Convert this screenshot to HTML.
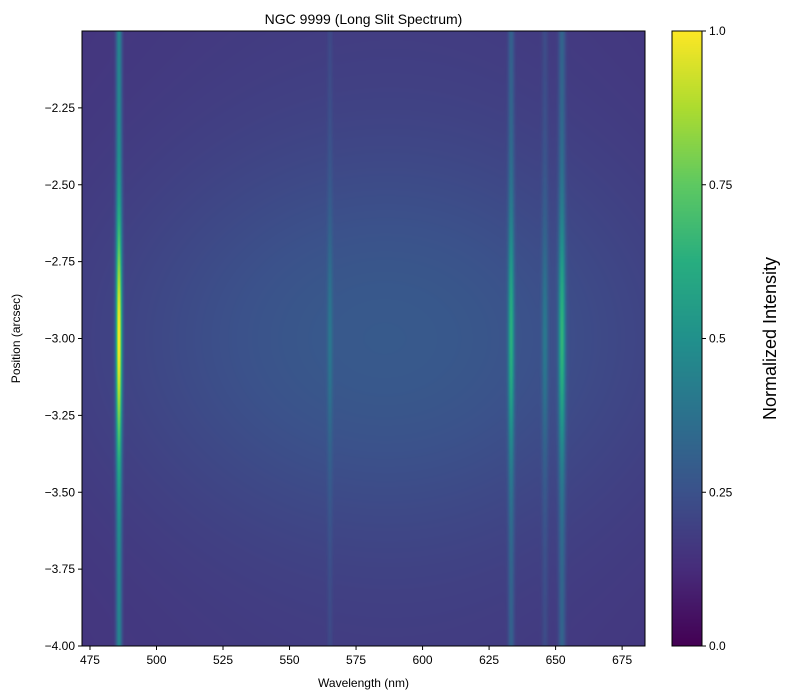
<!DOCTYPE html>
<html><head><meta charset="utf-8"><style>
body{margin:0;background:#fff;width:792px;height:699px;overflow:hidden;position:relative;font-family:"Liberation Sans","DejaVu Sans",sans-serif}
svg{position:absolute;left:0;top:0}
</style></head><body>
<canvas id="hm" width="563" height="615" style="position:absolute;left:82px;top:31px"></canvas>
<canvas id="cb" width="30" height="615" style="position:absolute;left:672px;top:31px"></canvas>
<svg id="ov" width="792" height="699"></svg>
<script>
// data
const lineCenters=[485.9,565.2,633.3,646.0,652.4];
const lineAmps=[0.82,0.12,0.38,0.16,0.42];
const lineWidths=[0.8,0.7,0.8,0.8,0.9];
const xTicks=[475,500,525,550,575,600,625,650,675];
const yTicks=[-2.25,-2.5,-2.75,-3.0,-3.25,-3.5,-3.75,-4.0];
const yTickLabels=["−2.25","−2.50","−2.75","−3.00","−3.25","−3.50","−3.75","−4.00"];
const cTicks=[0,0.25,0.5,0.75,1];
const cTickLabels=["0.0","0.25","0.5","0.75","1.0"];
const viridis=[[68,1,84],[71,45,123],[59,82,139],[44,114,142],[33,145,140],[40,174,128],[94,201,98],[173,220,48],[253,231,37]];

const PX=82,PY=31,PW=563,PH=615,XMIN=472,XMAX=683.6,YMIN=-4,YMAX=-2;
const xs=v=>PX+(v-XMIN)/(XMAX-XMIN)*PW;
const ys=v=>PY+(YMAX-v)/(YMAX-YMIN)*PH;
function cmap(t){t=Math.max(0,Math.min(1,t));const f=t*8,i=Math.min(7,Math.floor(f)),r=f-i;const a=viridis[i],b=viridis[i+1];return [a[0]+(b[0]-a[0])*r,a[1]+(b[1]-a[1])*r,a[2]+(b[2]-a[2])*r];}
function intensity(l,y){
  const dy=y+3;
  let v=0.14+0.11*Math.exp(-dy*dy/(2*0.45*0.45))*Math.exp(-Math.pow((l-585)/75,2)/2)+0.03*Math.exp(-Math.pow((l-590)/90,2)/2);
  const sp=0.36+0.64*Math.exp(-dy*dy/(2*0.25*0.25));
  for(let k=0;k<lineCenters.length;k++){const d=(l-lineCenters[k])/lineWidths[k];v+=lineAmps[k]*Math.exp(-d*d/2)*sp;}
  return v;
}
const hm=document.getElementById('hm').getContext('2d');
const img=hm.createImageData(PW,PH);
for(let j=0;j<PH;j++){const y=YMAX-(j+0.5)/PH*(YMAX-YMIN);
 for(let i=0;i<PW;i++){const l=XMIN+(i+0.5)/PW*(XMAX-XMIN);const c=cmap(intensity(l,y));const o=(j*PW+i)*4;img.data[o]=c[0];img.data[o+1]=c[1];img.data[o+2]=c[2];img.data[o+3]=255;}}
hm.putImageData(img,0,0);
const cb=document.getElementById('cb').getContext('2d');
for(let j=0;j<PH;j++){const c=cmap(1-j/(PH-1));cb.fillStyle=`rgb(${c[0]|0},${c[1]|0},${c[2]|0})`;cb.fillRect(0,j,30,1);}

const svg=document.getElementById('ov');const NS='http://www.w3.org/2000/svg';
function mk(t,a,txt){const e=document.createElementNS(NS,t);for(const k in a)e.setAttribute(k,a[k]);if(txt!==undefined)e.textContent=txt;svg.appendChild(e);return e;}
let e=mk('rect',{x:PX,y:PY,width:PW,height:PH,fill:'none',stroke:'#000','stroke-width':1});


e=mk('rect',{x:672,y:PY,width:30,height:PH,fill:'none',stroke:'#000','stroke-width':1});


xTicks.forEach(t=>{const x=xs(t);mk('line',{x1:x,x2:x,y1:PY+PH,y2:PY+PH+4,stroke:'#000'});
 e=mk('text',{x:x,y:PY+PH+18,'text-anchor':'middle','font-size':12},String(t));
 
 });
yTicks.forEach((t,i)=>{const y=ys(t);mk('line',{x1:PX-4,x2:PX,y1:y,y2:y,stroke:'#000'});
 e=mk('text',{x:PX-7,y:y+4,'text-anchor':'end','font-size':12},yTickLabels[i]);
 
 });
cTicks.forEach((t,i)=>{const y=PY+PH-t*PH;mk('line',{x1:702,x2:706,y1:y,y2:y,stroke:'#000'});
 e=mk('text',{x:709,y:y+4,'font-size':12},cTickLabels[i]);
 
 });
e=mk('text',{x:PX+PW/2,y:24,'text-anchor':'middle','font-size':14},'NGC 9999 (Long Slit Spectrum)');


e=mk('text',{x:PX+PW/2,y:687,'text-anchor':'middle','font-size':12},'Wavelength (nm)');


e=mk('text',{x:20,y:PY+PH/2,'text-anchor':'middle','font-size':12,transform:`rotate(-90 20 ${PY+PH/2})`},'Position (arcsec)');


e=mk('text',{x:776,y:PY+PH/2,'text-anchor':'middle','font-size':18,transform:`rotate(-90 776 ${PY+PH/2})`},'Normalized Intensity');


</script>
</body></html>
